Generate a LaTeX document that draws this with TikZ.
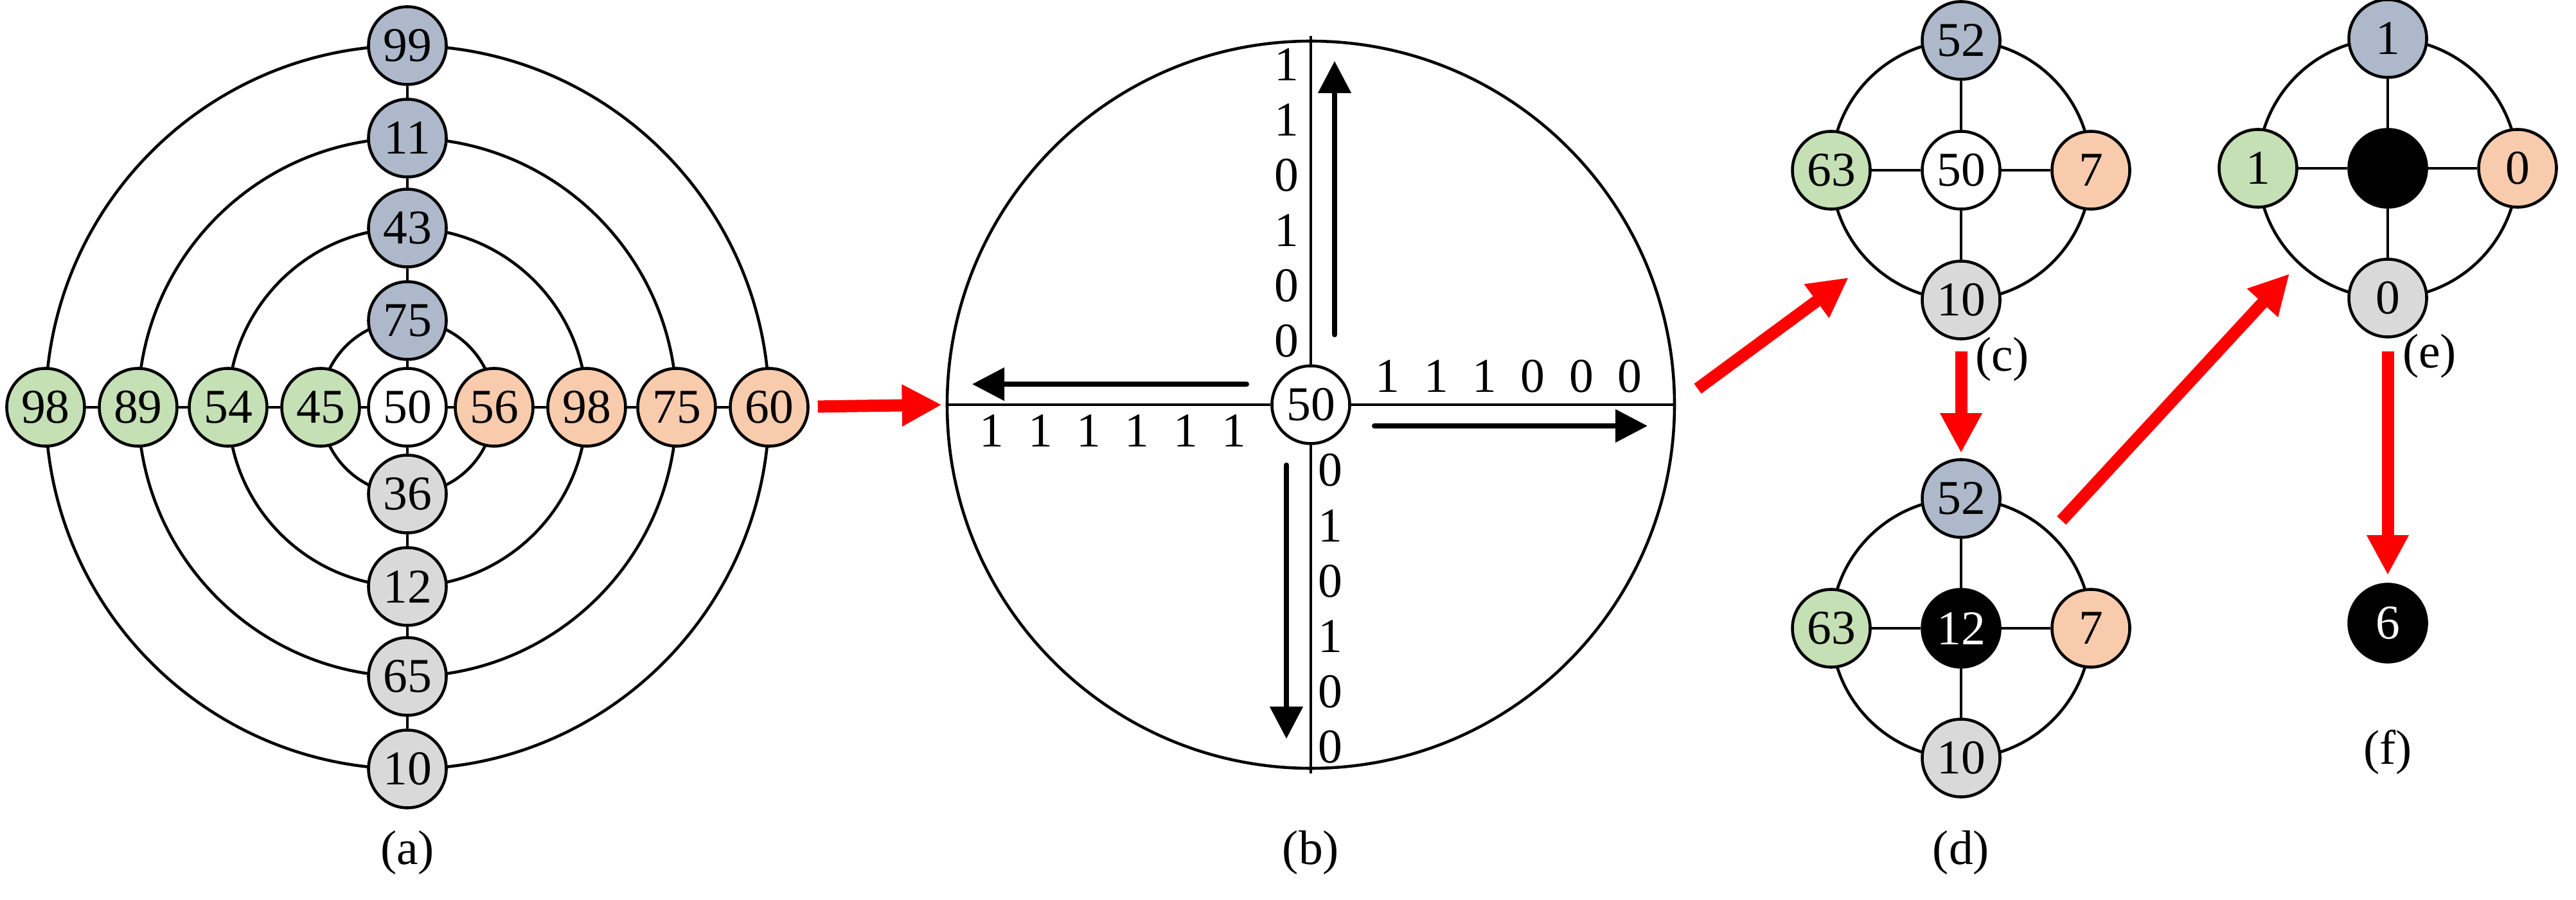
\documentclass[tikz,border=0pt]{standalone}
\usepackage{fontspec}
\setmainfont{Liberation Serif}
\usetikzlibrary{positioning,arrows.meta}

\definecolor{nodeblue}{HTML}{ADB9CA}
\definecolor{nodegreen}{HTML}{C5E0B4}
\definecolor{nodepeach}{HTML}{F8CBAD}
\definecolor{nodegray}{HTML}{D9D9D9}

\newcommand{\bitgap}{\hspace{0.376cm}}

\tikzstyle{num} = [circle, draw, line width=1.3pt, minimum size=1.21cm, inner sep=0pt, font=\fontsize{21.5}{25}\selectfont]
\tikzstyle{wnum} = [num, fill=white]
\tikzstyle{gnum} = [num, fill=nodegreen]
\tikzstyle{bnum} = [num, fill=nodeblue]
\tikzstyle{onum} = [num, fill=nodepeach]
\tikzstyle{ynum} = [num, fill=nodegray]
\tikzstyle{knum} = [num, fill=black, text=white]
\tikzstyle{ring} = [circle, draw, line width=1.3pt, inner sep=0pt]
\tikzstyle{link} = [line width=1.3pt]
\tikzstyle{redarrow} = [color=red, line width=0.19cm, -{Triangle[length=0.62cm,width=0.61cm]}]
\tikzstyle{bitarrow} = [line width=0.08cm, line cap=round, -{Triangle[length=0.5cm,width=0.5cm]}]
\tikzstyle{bits} = [inner sep=0pt, align=center, font=\fontsize{21.5}{24.5}\selectfont]
\tikzstyle{caption} = [inner sep=0pt, font=\fontsize{21.5}{25}\selectfont]

\begin{document}
\begin{tikzpicture}
\useasboundingbox (0,0) rectangle (40.09,-14.01);

% (a) rings
\coordinate (acen) at (6.34,-6.34);
\draw[link] (acen) circle (1.35cm) (acen) circle (2.79cm) (acen) circle (4.19cm) (acen) circle (5.63cm);
\node[wnum] (a50) at (acen) {50};
\node[gnum, left of=a50, node distance=1.35cm] (a45) {45};
\node[gnum, left of=a45, node distance=1.44cm] (a54) {54};
\node[gnum, left of=a54, node distance=1.40cm] (a89) {89};
\node[gnum, left of=a89, node distance=1.44cm] (a98w) {98};
\node[onum, right of=a50, node distance=1.35cm] (a56) {56};
\node[onum, right of=a56, node distance=1.44cm] (a98e) {98};
\node[onum, right of=a98e, node distance=1.40cm] (a75e) {75};
\node[onum, right of=a75e, node distance=1.44cm] (a60) {60};
\node[bnum, above of=a50, node distance=1.35cm] (a75n) {75};
\node[bnum, above of=a75n, node distance=1.44cm] (a43) {43};
\node[bnum, above of=a43, node distance=1.40cm] (a11) {11};
\node[bnum, above of=a11, node distance=1.44cm] (a99) {99};
\node[ynum, below of=a50, node distance=1.35cm] (a36) {36};
\node[ynum, below of=a36, node distance=1.44cm] (a12) {12};
\node[ynum, below of=a12, node distance=1.40cm] (a65) {65};
\node[ynum, below of=a65, node distance=1.44cm] (a10) {10};
\draw[link] (a98w) -- (a89) (a89) -- (a54) (a54) -- (a45) (a45) -- (a50)
  (a50) -- (a56) (a56) -- (a98e) (a98e) -- (a75e) (a75e) -- (a60)
  (a99) -- (a11) (a11) -- (a43) (a43) -- (a75n) (a75n) -- (a50)
  (a50) -- (a36) (a36) -- (a12) (a12) -- (a65) (a65) -- (a10);
\node[caption] (capa) at (6.34,-13.27) {(a)};

% (b)
\node[ring, minimum size=11.32cm] (bring) at (20.40,-6.30) {};
\node[wnum] (b50) at (bring.center) {50};
\draw[link] (bring.west) -- (b50) (b50) -- (bring.east);
\draw[link, shorten <=-0.06cm] (bring.north) -- (b50);
\draw[link, shorten >=-0.06cm] (b50) -- (bring.south);
\node[bits] (bitsN) at (20.02,-3.16) {1\\1\\0\\1\\0\\0};
\node[bits] (bitsS) at (20.70,-9.475) {0\\1\\0\\1\\0\\0};
\node[bits] (bitsW) at (17.32,-6.71) {1\bitgap1\bitgap1\bitgap1\bitgap1\bitgap1};
\node[bits] (bitsE) at (23.48,-5.86) {1\bitgap1\bitgap1\bitgap0\bitgap0\bitgap0};
\coordinate (upfrom) at (20.77,-5.21);
\coordinate (upto) at (20.77,-0.95);
\coordinate (leftfrom) at (19.40,-5.98);
\coordinate (leftto) at (15.13,-5.98);
\coordinate (rightfrom) at (21.39,-6.63);
\coordinate (rightto) at (25.64,-6.63);
\coordinate (downfrom) at (20.02,-7.24);
\coordinate (downto) at (20.02,-11.50);
\draw[bitarrow] (upfrom) -- (upto);
\draw[bitarrow] (leftfrom) -- (leftto);
\draw[bitarrow] (rightfrom) -- (rightto);
\draw[bitarrow] (downfrom) -- (downto);
\node[caption] (capb) at (20.40,-13.27) {(b)};

% (c)
\node[ring, minimum size=4.04cm] (cring) at (30.52,-2.65) {};
\node[wnum] (c50) at (cring.center) {50};
\node[bnum, above of=c50, node distance=2.02cm] (c52) {52};
\node[gnum, left of=c50, node distance=2.02cm] (c63) {63};
\node[onum, right of=c50, node distance=2.02cm] (c7) {7};
\node[ynum, below of=c50, node distance=2.02cm] (c10) {10};
\draw[link] (c50) -- (c52) (c50) -- (c63) (c50) -- (c7) (c50) -- (c10);
\node[caption] (capc) at (31.16,-5.59) {(c)};

% (d)
\node[ring, minimum size=4.04cm] (dring) at (30.52,-9.78) {};
\node[knum] (d12) at (dring.center) {12};
\node[bnum, above of=d12, node distance=2.02cm] (d52) {52};
\node[gnum, left of=d12, node distance=2.02cm] (d63) {63};
\node[onum, right of=d12, node distance=2.02cm] (d7) {7};
\node[ynum, below of=d12, node distance=2.02cm] (d10) {10};
\draw[link] (d12) -- (d52) (d12) -- (d63) (d12) -- (d7) (d12) -- (d10);
\node[caption] (capd) at (30.52,-13.27) {(d)};

% (e)
\node[ring, minimum size=4.04cm] (ering) at (37.16,-2.62) {};
\node[knum] (emid) at (ering.center) {};
\node[bnum, above of=emid, node distance=2.02cm] (e1n) {1};
\node[gnum, left of=emid, node distance=2.02cm] (e1w) {1};
\node[onum, right of=emid, node distance=2.02cm] (e0e) {0};
\node[ynum, below of=emid, node distance=2.02cm] (e0s) {0};
\draw[link] (emid) -- (e1n) (emid) -- (e1w) (emid) -- (e0e) (emid) -- (e0s);
\node[caption] (cape) at (37.81,-5.54) {(e)};

% (f)
\node[knum] (f6) at (37.16,-9.70) {6};
\node[caption] (capf) at (37.16,-11.71) {(f)};

% red arrows
\draw[redarrow, shorten <=0.13cm, shorten >=0.06cm] (a60) -- (bring.west);
\draw[redarrow, shorten <=0.42cm, shorten >=0.38cm] (bring.east) -- (cring.225);
\draw[redarrow, shorten <=0.17cm, shorten >=0.08cm] (c10) -- (d52);
\draw[redarrow, shorten <=0.25cm, shorten >=0.20cm] (dring.47) -- (ering.227);
\draw[redarrow, shorten <=0.20cm, shorten >=0.12cm] (e0s) -- (f6);
\end{tikzpicture}
\end{document}
